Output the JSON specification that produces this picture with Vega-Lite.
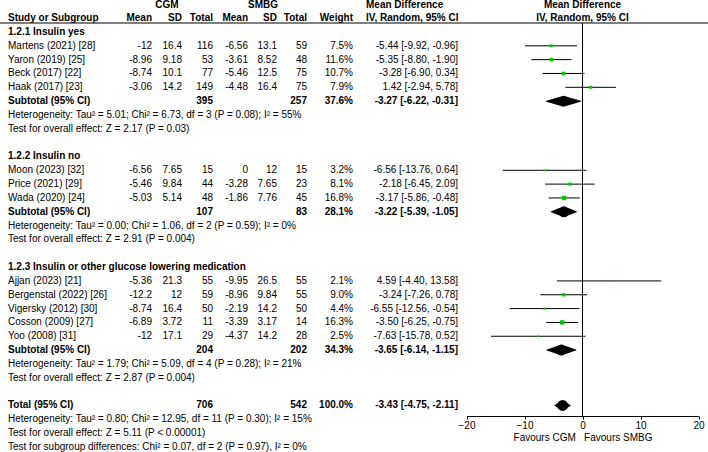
{
  "$schema": "https://vega.github.io/schema/vega-lite/v6.json",
  "width": 708,
  "height": 393,
  "autosize": {"type": "none"},
  "padding": {"left": 0, "right": 0, "top": 23, "bottom": 36},
  "background": "white",
  "config": {
    "view": {"stroke": null},
    "text": {"font": "Liberation Sans", "fontSize": 10, "color": "black"}
  },
  "datasets": {
    "rows": [
      {"row": -0.92, "kind": "header", "gc": "CGM", "gs": "SMBG", "mdh": "Mean Difference", "fh": "Mean Difference"},
      {"row": 0, "kind": "header", "label": "Study or Subgroup", "cm": "Mean", "csd": "SD", "cn": "Total", "sm": "Mean", "ssd": "SD", "sn": "Total", "w": "Weight", "mdh": "IV, Random, 95% CI", "fh": "IV, Random, 95% CI"},
      {"row": 1, "kind": "section", "label": "1.2.1 Insulin yes"},
      {"row": 2, "kind": "study", "label": "Martens (2021) [28]", "cm": -12, "csd": 16.4, "cn": 116, "sm": -6.56, "ssd": 13.1, "sn": 59, "w": "7.5%", "wt": 7.5, "ci": "-5.44 [-9.92, -0.96]", "est": -5.44, "lo": -9.92, "hi": -0.96},
      {"row": 3, "kind": "study", "label": "Yaron (2019) [25]", "cm": -8.96, "csd": 9.18, "cn": 53, "sm": -3.61, "ssd": 8.52, "sn": 48, "w": "11.6%", "wt": 11.6, "ci": "-5.35 [-8.80, -1.90]", "est": -5.35, "lo": -8.8, "hi": -1.9},
      {"row": 4, "kind": "study", "label": "Beck (2017) [22]", "cm": -8.74, "csd": 10.1, "cn": 77, "sm": -5.46, "ssd": 12.5, "sn": 75, "w": "10.7%", "wt": 10.7, "ci": "-3.28 [-6.90, 0.34]", "est": -3.28, "lo": -6.9, "hi": 0.34},
      {"row": 5, "kind": "study", "label": "Haak (2017) [23]", "cm": -3.06, "csd": 14.2, "cn": 149, "sm": -4.48, "ssd": 16.4, "sn": 75, "w": "7.9%", "wt": 7.9, "ci": "1.42 [-2.94, 5.78]", "est": 1.42, "lo": -2.94, "hi": 5.78},
      {"row": 6, "kind": "subtotal", "label": "Subtotal (95% CI)", "cn": 395, "sn": 257, "w": "37.6%", "ci": "-3.27 [-6.22, -0.31]", "est": -3.27, "lo": -6.22, "hi": -0.31},
      {"row": 7, "kind": "note", "label": "Heterogeneity: Tau² = 5.01; Chi² = 6.73, df = 3 (P = 0.08); I² = 55%"},
      {"row": 8, "kind": "note", "label": "Test for overall effect: Z = 2.17 (P = 0.03)"},
      {"row": 10, "kind": "section", "label": "1.2.2 Insulin no"},
      {"row": 11, "kind": "study", "label": "Moon (2023) [32]", "cm": -6.56, "csd": 7.65, "cn": 15, "sm": 0, "ssd": 12, "sn": 15, "w": "3.2%", "wt": 3.2, "ci": "-6.56 [-13.76, 0.64]", "est": -6.56, "lo": -13.76, "hi": 0.64},
      {"row": 12, "kind": "study", "label": "Price (2021) [29]", "cm": -5.46, "csd": 9.84, "cn": 44, "sm": -3.28, "ssd": 7.65, "sn": 23, "w": "8.1%", "wt": 8.1, "ci": "-2.18 [-6.45, 2.09]", "est": -2.18, "lo": -6.45, "hi": 2.09},
      {"row": 13, "kind": "study", "label": "Wada (2020) [24]", "cm": -5.03, "csd": 5.14, "cn": 48, "sm": -1.86, "ssd": 7.76, "sn": 45, "w": "16.8%", "wt": 16.8, "ci": "-3.17 [-5.86, -0.48]", "est": -3.17, "lo": -5.86, "hi": -0.48},
      {"row": 14, "kind": "subtotal", "label": "Subtotal (95% CI)", "cn": 107, "sn": 83, "w": "28.1%", "ci": "-3.22 [-5.39, -1.05]", "est": -3.22, "lo": -5.39, "hi": -1.05},
      {"row": 15, "kind": "note", "label": "Heterogeneity: Tau² = 0.00; Chi² = 1.06, df = 2 (P = 0.59); I² = 0%"},
      {"row": 16, "kind": "note", "label": "Test for overall effect: Z = 2.91 (P = 0.004)"},
      {"row": 18, "kind": "section", "label": "1.2.3 Insulin or other glucose lowering medication"},
      {"row": 19, "kind": "study", "label": "Ajjan (2023) [21]", "cm": -5.36, "csd": 21.3, "cn": 55, "sm": -9.95, "ssd": 26.5, "sn": 55, "w": "2.1%", "wt": 2.1, "ci": "4.59 [-4.40, 13.58]", "est": 4.59, "lo": -4.4, "hi": 13.58},
      {"row": 20, "kind": "study", "label": "Bergenstal (2022) [26]", "cm": -12.2, "csd": 12, "cn": 59, "sm": -8.96, "ssd": 9.84, "sn": 55, "w": "9.0%", "wt": 9.0, "ci": "-3.24 [-7.26, 0.78]", "est": -3.24, "lo": -7.26, "hi": 0.78},
      {"row": 21, "kind": "study", "label": "Vigersky (2012) [30]", "cm": -8.74, "csd": 16.4, "cn": 50, "sm": -2.19, "ssd": 14.2, "sn": 50, "w": "4.4%", "wt": 4.4, "ci": "-6.55 [-12.56, -0.54]", "est": -6.55, "lo": -12.56, "hi": -0.54},
      {"row": 22, "kind": "study", "label": "Cosson (2009) [27]", "cm": -6.89, "csd": 3.72, "cn": 11, "sm": -3.39, "ssd": 3.17, "sn": 14, "w": "16.3%", "wt": 16.3, "ci": "-3.50 [-6.25, -0.75]", "est": -3.5, "lo": -6.25, "hi": -0.75},
      {"row": 23, "kind": "study", "label": "Yoo (2008) [31]", "cm": -12, "csd": 17.1, "cn": 29, "sm": -4.37, "ssd": 14.2, "sn": 28, "w": "2.5%", "wt": 2.5, "ci": "-7.63 [-15.78, 0.52]", "est": -7.63, "lo": -15.78, "hi": 0.52},
      {"row": 24, "kind": "subtotal", "label": "Subtotal (95% CI)", "cn": 204, "sn": 202, "w": "34.3%", "ci": "-3.65 [-6.14, -1.15]", "est": -3.65, "lo": -6.14, "hi": -1.15},
      {"row": 25, "kind": "note", "label": "Heterogeneity: Tau² = 1.79; Chi² = 5.09, df = 4 (P = 0.28); I² = 21%"},
      {"row": 26, "kind": "note", "label": "Test for overall effect: Z = 2.87 (P = 0.004)"},
      {"row": 28, "kind": "total", "label": "Total (95% CI)", "cn": 706, "sn": 542, "w": "100.0%", "ci": "-3.43 [-4.75, -2.11]", "est": -3.43, "lo": -4.75, "hi": -2.11},
      {"row": 29, "kind": "note", "label": "Heterogeneity: Tau² = 0.80; Chi² = 12.95, df = 11 (P = 0.30); I² = 15%"},
      {"row": 30, "kind": "note", "label": "Test for overall effect: Z = 5.11 (P < 0.00001)"},
      {"row": 31, "kind": "note", "label": "Test for subgroup differences: Chi² = 0.07, df = 2 (P = 0.97), I² = 0%"}
    ],
    "columns": [
      {"key": "label", "col": 0},
      {"key": "cm", "col": 1},
      {"key": "csd", "col": 2},
      {"key": "cn", "col": 3},
      {"key": "sm", "col": 4},
      {"key": "ssd", "col": 5},
      {"key": "sn", "col": 6},
      {"key": "w", "col": 7},
      {"key": "mdh", "col": 8},
      {"key": "ci", "col": 9},
      {"key": "gc", "col": 10},
      {"key": "gs", "col": 11},
      {"key": "fh", "col": 12}
    ],
    "reference": [{"null_effect": 0}]
  },
  "layer": [
    {
      "data": {"name": "rows"},
      "transform": [
        {"fold": ["label", "cm", "csd", "cn", "sm", "ssd", "sn", "w", "mdh", "ci", "gc", "gs", "fh"], "as": ["key", "text"]},
        {"filter": "isValid(datum.text)"},
        {"lookup": "key", "from": {"data": {"name": "columns"}, "key": "key", "fields": ["col"]}}
      ],
      "encoding": {
        "x": {"field": "col", "type": "quantitative", "axis": null,
              "scale": {"domain": [0, 1, 2, 3, 4, 5, 6, 7, 8, 9, 10, 11, 12], "range": [8, 152, 182, 213, 248, 277, 307, 353, 366, 458, 167, 263, 582.5], "zero": false, "nice": false}},
        "y": {"field": "row", "type": "quantitative", "axis": null,
              "scale": {"domain": [0.35, 28.766], "reverse": true, "zero": false, "nice": false}},
        "text": {"field": "text", "type": "nominal"}
      },
      "layer": [
        {
          "transform": [{"filter": "(datum.key == 'label' || datum.key == 'mdh') && datum.kind != 'study' && datum.kind != 'note'"}],
          "mark": {"type": "text", "align": "left", "fontWeight": "bold", "color": "black", "font": "Liberation Sans", "fontSize": 10}
        },
        {
          "transform": [{"filter": "(datum.key == 'label' || datum.key == 'mdh') && (datum.kind == 'study' || datum.kind == 'note')"}],
          "mark": {"type": "text", "align": "left", "fontWeight": "normal", "color": "black", "font": "Liberation Sans", "fontSize": 10}
        },
        {
          "transform": [{"filter": "datum.col >= 1 && datum.col <= 9 && datum.key != 'mdh' && datum.kind != 'study' && datum.kind != 'note'"}],
          "mark": {"type": "text", "align": "right", "fontWeight": "bold", "color": "black", "font": "Liberation Sans", "fontSize": 10}
        },
        {
          "transform": [{"filter": "datum.col >= 1 && datum.col <= 9 && datum.key != 'mdh' && (datum.kind == 'study' || datum.kind == 'note')"}],
          "mark": {"type": "text", "align": "right", "fontWeight": "normal", "color": "black", "font": "Liberation Sans", "fontSize": 10}
        },
        {
          "transform": [{"filter": "datum.col >= 10"}],
          "mark": {"type": "text", "align": "center", "fontWeight": "bold", "color": "black", "font": "Liberation Sans", "fontSize": 10}
        }
      ]
    },
    {
      "layer": [
        {
          "data": {"name": "reference"},
          "mark": {"type": "rule", "color": "black", "strokeWidth": 1},
          "encoding": {
            "x": {"field": "null_effect", "type": "quantitative",
                  "scale": {"domain": [-20, 20], "range": [466.5, 698.5], "zero": false, "nice": false},
                  "axis": {"values": [-20, -10, 0, 10, 20], "format": "d", "title": "Favours CGM\u00a0\u00a0\u00a0Favours SMBG", "titleFont": "Liberation Sans", "titleFontSize": 10, "titleFontWeight": "normal", "titleColor": "black", "titlePadding": 2, "labelFont": "Liberation Sans", "labelFontSize": 10, "labelColor": "black", "labelFlush": false, "labelPadding": 1, "tickSize": 3, "tickColor": "black", "domainColor": "black", "grid": false}}
          }
        },
        {
          "data": {"name": "rows"},
          "transform": [{"filter": "datum.kind == 'study'"}],
          "mark": {"type": "rule", "color": "black", "strokeWidth": 1},
          "encoding": {
            "x": {"field": "lo", "type": "quantitative",
                  "scale": {"domain": [-20, 20], "range": [466.5, 698.5], "zero": false, "nice": false},
                  "axis": {"values": [-20, -10, 0, 10, 20], "format": "d", "title": "Favours CGM\u00a0\u00a0\u00a0Favours SMBG", "titleFont": "Liberation Sans", "titleFontSize": 10, "titleFontWeight": "normal", "titleColor": "black", "titlePadding": 2, "labelFont": "Liberation Sans", "labelFontSize": 10, "labelColor": "black", "labelFlush": false, "labelPadding": 1, "tickSize": 3, "tickColor": "black", "domainColor": "black", "grid": false}},
            "x2": {"field": "hi"},
            "y": {"field": "row", "type": "quantitative", "axis": null,
                  "scale": {"domain": [0.35, 28.766], "reverse": true, "zero": false, "nice": false}}
          }
        },
        {
          "data": {"name": "rows"},
          "transform": [{"filter": "datum.kind == 'study'"}],
          "mark": {"type": "point", "shape": "square", "filled": true, "color": "#00c800", "opacity": 1},
          "encoding": {
            "x": {"field": "est", "type": "quantitative",
                  "scale": {"domain": [-20, 20], "range": [466.5, 698.5], "zero": false, "nice": false},
                  "axis": {"values": [-20, -10, 0, 10, 20], "format": "d", "title": "Favours CGM\u00a0\u00a0\u00a0Favours SMBG", "titleFont": "Liberation Sans", "titleFontSize": 10, "titleFontWeight": "normal", "titleColor": "black", "titlePadding": 2, "labelFont": "Liberation Sans", "labelFontSize": 10, "labelColor": "black", "labelFlush": false, "labelPadding": 1, "tickSize": 3, "tickColor": "black", "domainColor": "black", "grid": false}},
            "y": {"field": "row", "type": "quantitative", "axis": null,
                  "scale": {"domain": [0.35, 28.766], "reverse": true, "zero": false, "nice": false}},
            "size": {"field": "wt", "type": "quantitative", "legend": null, "scale": {"domain": [0, 16.8], "range": [0, 20], "zero": true}}
          }
        },
        {
          "data": {"name": "rows"},
          "transform": [
            {"filter": "datum.kind == 'subtotal' || datum.kind == 'total'"},
            {"fold": ["lo", "est", "hi"], "as": ["bound", "val"]}
          ],
          "mark": {"type": "trail", "color": "black", "opacity": 1},
          "encoding": {
            "x": {"field": "val", "type": "quantitative",
                  "scale": {"domain": [-20, 20], "range": [466.5, 698.5], "zero": false, "nice": false},
                  "axis": {"values": [-20, -10, 0, 10, 20], "format": "d", "title": "Favours CGM\u00a0\u00a0\u00a0Favours SMBG", "titleFont": "Liberation Sans", "titleFontSize": 10, "titleFontWeight": "normal", "titleColor": "black", "titlePadding": 2, "labelFont": "Liberation Sans", "labelFontSize": 10, "labelColor": "black", "labelFlush": false, "labelPadding": 1, "tickSize": 3, "tickColor": "black", "domainColor": "black", "grid": false}},
            "y": {"field": "row", "type": "quantitative", "axis": null,
                  "scale": {"domain": [0.35, 28.766], "reverse": true, "zero": false, "nice": false}},
            "detail": {"field": "row", "type": "nominal"},
            "order": {"field": "val", "type": "quantitative"},
            "size": {"condition": {"test": "datum.bound == 'est'", "value": 11}, "value": 0}
          }
        }
      ]
    },
    {
      "data": {"name": "reference"},
      "mark": {"type": "rule", "color": "black", "strokeWidth": 1},
      "encoding": {
        "y": {"datum": 0.35, "type": "quantitative", "axis": null,
              "scale": {"domain": [0.35, 28.766], "reverse": true, "zero": false, "nice": false}}
      }
    }
  ],
  "resolve": {"scale": {"x": "independent"}, "axis": {"x": "independent"}}
}
